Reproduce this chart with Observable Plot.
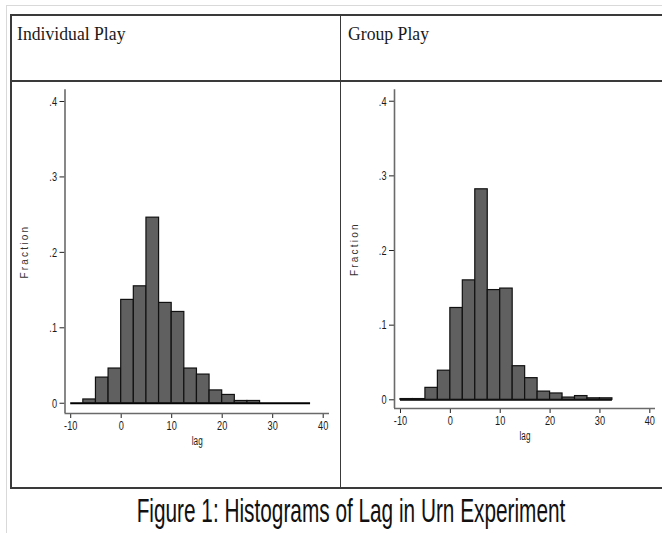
<!DOCTYPE html>
<html><head><meta charset="utf-8">
<script src="https://cdn.jsdelivr.net/npm/d3@7"></script>
<script src="https://cdn.jsdelivr.net/npm/@observablehq/plot@0.6"></script>
<style>
  html,body{margin:0;padding:0;background:#fff;}
  body{width:662px;height:533px;overflow:hidden;position:relative;}
  .ln{position:absolute;background:#3a3a3a;}
  .lt{position:absolute;background:#d9d9d9;}
  .title{position:absolute;font-family:"Liberation Serif","Times New Roman",serif;font-size:19px;color:#1a1a1a;white-space:nowrap;line-height:1;transform-origin:left center;transform:scaleX(0.93);}
  .panel{position:absolute;}
  .panel svg{overflow:visible;}
  .panel g[aria-label="x-axis tick label"] text,
  .panel g[aria-label="y-axis tick label"] text{font-size:13.5px !important;fill:#1a1a1a;}
  .panel g[aria-label="x-axis label"] text{font-size:12px !important;fill:#1a1a1a;}
  .panel g[aria-label="y-axis label"] text{font-size:10px !important;letter-spacing:2.2px;fill:#333;}
  .caption{position:absolute;left:0;width:702px;text-align:center;font-family:"Liberation Sans",Arial,sans-serif;font-size:33px;line-height:33px;color:#111;white-space:nowrap;transform-origin:351px center;transform:scaleX(0.63);}
</style></head>
<body>
<div class="lt" style="left:6px;top:5px;right:0;height:1px"></div>
<div class="lt" style="left:6px;top:5px;width:1px;bottom:0"></div>
<div class="ln" style="left:10px;top:14px;right:0;height:2px"></div>
<div class="ln" style="left:10px;top:80px;right:0;height:2px"></div>
<div class="ln" style="left:10px;top:487px;right:0;height:2px"></div>
<div class="ln" style="left:10px;top:14px;width:1.5px;height:475px"></div>
<div class="ln" style="left:339.5px;top:14px;width:1.5px;height:475px"></div>
<div class="title" id="t1" style="left:17px;top:24px"></div>
<div class="title" id="t2" style="left:348px;top:24px"></div>
<div class="panel" id="p1" style="left:11px;top:82px"></div>
<div class="panel" id="p2" style="left:342px;top:82px"></div>
<div class="caption" id="cap" style="top:494px"></div>
<script>
// ---- data ----
const panelTitles = ["Individual Play", "Group Play"];
const captionText = "Figure 1: Histograms of Lag in Urn Experiment";
const binWidth = 2.5;
const binStarts = [-10, -7.5, -5, -2.5, 0, 2.5, 5, 7.5, 10, 12.5, 15, 17.5, 20, 22.5, 25, 27.5, 30, 32.5, 35];
const individualFraction = [0, 0.005, 0.034, 0.046, 0.137, 0.155, 0.246, 0.133, 0.121, 0.046, 0.038, 0.017, 0.011, 0.003, 0.003, 0, 0, 0, 0];
const groupFraction = [0.001, 0.001, 0.016, 0.039, 0.123, 0.160, 0.282, 0.147, 0.149, 0.045, 0.029, 0.011, 0.0085, 0.003, 0.005, 0.002, 0.002];
const xTicks = [-10, 0, 10, 20, 30, 40];
const yTicks = [0, 0.1, 0.2, 0.3, 0.4];
const xLabel = "lag";
const yLabel = "Fraction";

// ---- chart ----
const fmtY = d => d === 0 ? "0" : d3.format(".1f")(d).replace(/^0/, "");
const fmtX = d => String(d);

function histogram(values, cfg) {
  const data = values.map((v, i) => ({x1: binStarts[i], x2: binStarts[i] + binWidth, y: v}));
  const svg = Plot.plot({
    width: cfg.width, height: cfg.height,
    marginLeft: cfg.ml, marginRight: cfg.mr, marginTop: cfg.mt, marginBottom: cfg.mb,
    style: {fontFamily: '"Liberation Sans",Arial,sans-serif', fontSize: "13px", color: "#222", background: "transparent"},
    x: {domain: cfg.xDomain, ticks: xTicks, tickSize: 5, tickPadding: 2, tickFormat: fmtX, label: xLabel, labelAnchor: "center", labelOffset: 31, labelArrow: false},
    y: {domain: cfg.yDomain, ticks: yTicks, tickSize: 5, tickPadding: 3, tickFormat: fmtY, label: yLabel, labelAnchor: "center", labelOffset: 44, labelArrow: false},
    marks: [
      Plot.ruleX([cfg.xDomain[0]], {stroke: "#6a6a6a", strokeWidth: 1.6}),
      Plot.ruleY([cfg.yDomain[0]], {stroke: "#6a6a6a", strokeWidth: 1.6}),
      Plot.ruleY([0], {x1: data[0].x1, x2: data[data.length - 1].x2, stroke: "#000", strokeWidth: 1.8}),
      Plot.rectY(data, {x1: "x1", x2: "x2", y: "y", fill: "#606060", stroke: "#111", strokeWidth: 1.2})
    ]
  });
  // condensed look for tick labels
  svg.querySelectorAll('g[aria-label="x-axis tick label"] text, g[aria-label="y-axis tick label"] text, g[aria-label="x-axis label"] text').forEach(t => {
    const tr = t.getAttribute("transform") || "";
    t.setAttribute("transform", tr + " scale(0.68,1)");
  });
  return svg;
}

document.getElementById("t1").textContent = panelTitles[0];
document.getElementById("t2").textContent = panelTitles[1];
document.getElementById("cap").textContent = captionText;

document.getElementById("p1").append(histogram(individualFraction, {
  width: 328, height: 405, ml: 53.5, mr: 10, mt: 7.3, mb: 74,
  xDomain: [-11.13, 41.25], yDomain: [-0.0136, 0.4155]
}));
document.getElementById("p2").append(histogram(groupFraction, {
  width: 320, height: 405, ml: 52, mr: 7, mt: 7.3, mb: 79,
  xDomain: [-11.2, 41.14], yDomain: [-0.01165, 0.4153]
}));
</script>
</body></html>
